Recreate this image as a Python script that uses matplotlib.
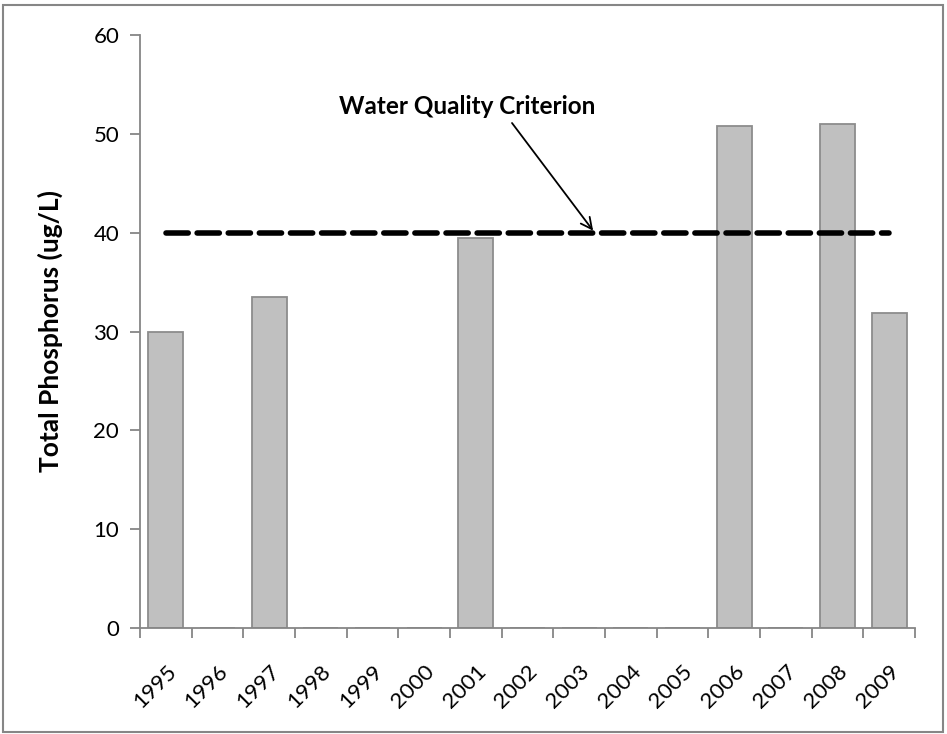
import matplotlib.pyplot as plt
import matplotlib.patches as mpatches
import numpy as np

years = ['1995', '1996', '1997', '1998', '1999', '2000', '2001', '2002',
         '2003', '2004', '2005', '2006', '2007', '2008', '2009']
phosphorus = [30.0, 0, 33.5, 0, 0, 0, 39.5, 0, 0, 0, 0, 50.8, 0, 51.0, 31.9]
criterion = 40

plt.rcParams['font.family'] = ['Lato', 'DejaVu Sans']

fig = plt.figure(figsize=(9.47, 7.34), dpi=100)
ax = fig.add_axes([140 / 947, 1 - 628 / 734, 775 / 947, 593 / 734])

# outer chart border
fig.patches.append(mpatches.Rectangle((3 / 947, 1 - 732 / 734), 940 / 947, 727 / 734,
                                      transform=fig.transFigure, fill=False,
                                      edgecolor='#868686', linewidth=1.5))

x = np.arange(len(years))
ax.bar(x, phosphorus, width=0.68, color='#c0c0c0', edgecolor='#8c8c8c', linewidth=1.3)
ax.plot(x, [criterion] * len(x), color='black', linewidth=4, linestyle=(0, (4, 1.6)),
        dash_capstyle='round')

ax.set_xlim(-0.5, len(years) - 0.5)
ax.set_ylim(0, 60)
ax.set_yticks(range(0, 61, 10))
ax.tick_params(axis='y', length=7, width=1.3, color='#868686', labelsize=16, pad=8)

ax.set_xticks(np.arange(-0.5, len(years), 1))
ax.set_xticklabels([])
ax.set_xticks(x, minor=True)
ax.set_xticklabels(years, minor=True, rotation=45, ha='right', rotation_mode='anchor',
                   fontsize=16)
ax.tick_params(axis='x', which='major', length=7, width=1.3, color='#868686')
ax.tick_params(axis='x', which='minor', length=0, pad=24)

for s in ['top', 'right']:
    ax.spines[s].set_visible(False)
for s in ['left', 'bottom']:
    ax.spines[s].set_color('#868686')
    ax.spines[s].set_linewidth(1.3)

ax.set_ylabel('Total Phosphorus (ug/L)', fontsize=19, fontweight='bold', labelpad=22)

fig.text(467 / 947, 1 - 107 / 734, 'Water Quality Criterion', ha='center', va='center',
         fontsize=17.5, fontweight='bold')
ax.annotate('', xy=(8.27, 40.2), xytext=(512, 734 - 123), textcoords='figure pixels',
            arrowprops=dict(arrowstyle='->', color='black', lw=1.3,
                            mutation_scale=20, shrinkA=0, shrinkB=0))

fig.savefig('out.png', dpi=100)
